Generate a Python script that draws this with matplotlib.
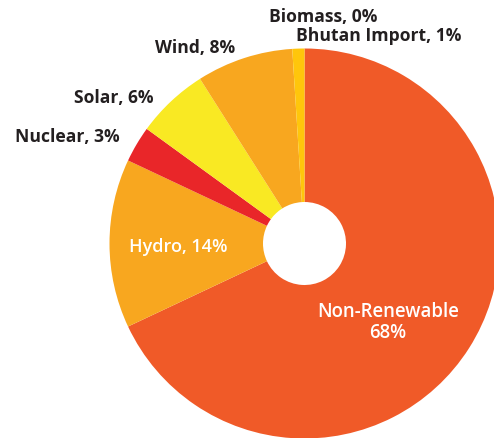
import matplotlib.pyplot as plt

sources = ['Non-Renewable', 'Hydro', 'Nuclear', 'Solar', 'Wind', 'Biomass', 'Bhutan Import']
shares = [68, 14, 3, 6, 8, 0, 1]
colors = ['#F05A28', '#F8A71F', '#E92629', '#F9E923', '#F8A71F', '#F4C430', '#FFC60B']

W, H = 494, 439
fig = plt.figure(figsize=(W / 100, H / 100), dpi=100)
ax = fig.add_axes([0, 0, 1, 1])

# pie geometry in pixel units
cx, cy = 304.5, H - 244.5
R, hole = 195, 41.5

ax.pie(shares, colors=colors, startangle=90, counterclock=False,
       center=(cx, cy), radius=R,
       wedgeprops=dict(width=R - hole, linewidth=0))

ax.set_xlim(0, W)
ax.set_ylim(0, H)
ax.set_aspect('equal')
ax.axis('off')

font = 'Open Sans'
dark = '#231F20'

# outside labels (pixel positions, y measured from top)
outside = [
    ('Biomass, 0%', 269, 17),
    ('Bhutan Import, 1%', 296, 36),
    ('Wind, 8%', 155, 48),
    ('Solar, 6%', 74, 98),
    ('Nuclear, 3%', 15, 137),
]
for txt, x, y in outside:
    ax.text(x, H - y, txt, ha='left', va='center', fontsize=12.6,
            fontweight='bold', color=dark, family=font)

ax.text(129, H - 247, 'Hydro, 14%', ha='left', va='center', fontsize=13,
        fontweight='semibold', color='white', family=font)
ax.text(388, H - 312, 'Non-Renewable', ha='center', va='center',
        fontsize=13.4, fontweight='semibold', color='white', family=font)
ax.text(388, H - 333, '68%', ha='center', va='center',
        fontsize=13.4, fontweight='semibold', color='white', family=font)

fig.savefig('out.png', dpi=100)
